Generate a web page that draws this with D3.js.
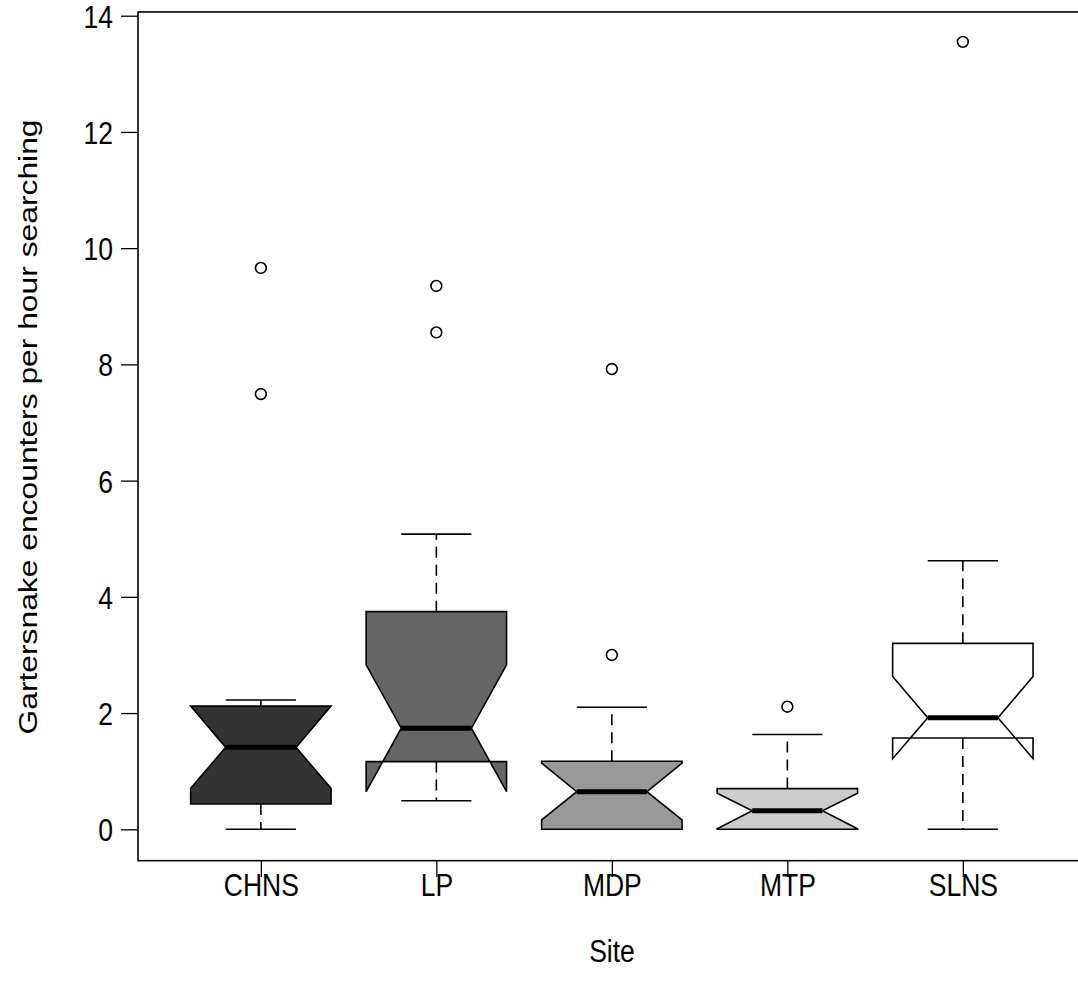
<!DOCTYPE html>
<html>
<head>
<meta charset="utf-8">
<script src="https://cdn.jsdelivr.net/npm/d3@7"></script>
<style>
  html, body { margin: 0; padding: 0; background: #fff; }
  svg { display: block; }
  text { font-family: "Liberation Sans", Arial, Helvetica, sans-serif; fill: #000; }
</style>
</head>
<body>
<div id="chart"></div>
<script>
// Gartersnake encounter rates by site: notched box summaries
const sites      = ["CHNS", "LP", "MDP", "MTP", "SLNS"];
const fills      = ["#333333", "#666666", "#999999", "#cccccc", "#ffffff"];
const whiskerLo  = [0.00, 0.49, 0.00, 0.00, 0.00];
const q1         = [0.435, 1.165, 0.00, 0.00, 1.57];
const notchLo    = [0.705, 0.647, 0.16, 0.01, 1.215];
const median     = [1.41, 1.74, 0.647, 0.32, 1.92];
const notchHi    = [2.12, 2.83, 1.14, 0.62, 2.63];
const q3         = [2.12, 3.745, 1.17, 0.70, 3.20];
const whiskerHi  = [2.225, 5.08, 2.10, 1.63, 4.62];
const outliers   = [[7.49, 9.66], [8.55, 9.35], [3.00, 7.92], [2.11], [13.55]];
const yTicks     = [0, 2, 4, 6, 8, 10, 12, 14];

const W = 1078, H = 989;
const FS = 26.5;        // label font size
const TALL = 1.2;       // vertical stretch of the lettering
const svg = d3.select("#chart").append("svg").attr("width", W).attr("height", H);

// position index 1..5, padded like a base boxplot window
const x = d3.scaleLinear().domain([0.3, 5.7]).range([138, 1085.7]);
const y = d3.scaleLinear().domain([0, 14]).range([829.3, 15.7]);

const boxHalf = 0.4, notchHalf = 0.2, capHalf = 0.2;

const data = sites.map((s, i) => ({
  site: s, pos: i + 1, fill: fills[i],
  wlo: whiskerLo[i], q1: q1[i], nlo: notchLo[i], med: median[i],
  nhi: notchHi[i], q3: q3[i], whi: whiskerHi[i], out: outliers[i]
}));

const g = svg.append("g");

// whiskers (dashed) and caps
data.forEach(d => {
  const cx = x(d.pos);
  g.append("line").attr("x1", cx).attr("x2", cx)
    .attr("y1", y(d.q3)).attr("y2", y(d.whi))
    .attr("stroke", "#000").attr("stroke-width", 1.6).attr("stroke-dasharray", "11,7");
  g.append("line").attr("x1", cx).attr("x2", cx)
    .attr("y1", y(d.q1)).attr("y2", y(d.wlo))
    .attr("stroke", "#000").attr("stroke-width", 1.6).attr("stroke-dasharray", "11,7");
  [d.whi, d.wlo].forEach(v => {
    g.append("line")
      .attr("x1", x(d.pos - capHalf)).attr("x2", x(d.pos + capHalf))
      .attr("y1", y(v)).attr("y2", y(v))
      .attr("stroke", "#000").attr("stroke-width", 1.6);
  });
});

// notched boxes
data.forEach(d => {
  const xl = x(d.pos - boxHalf), xr = x(d.pos + boxHalf);
  const nl = x(d.pos - notchHalf), nr = x(d.pos + notchHalf);
  const pts = [
    [xl, y(d.q1)], [xl, y(d.nlo)], [nl, y(d.med)], [xl, y(d.nhi)], [xl, y(d.q3)],
    [xr, y(d.q3)], [xr, y(d.nhi)], [nr, y(d.med)], [xr, y(d.nlo)], [xr, y(d.q1)]
  ];
  g.append("path")
    .attr("d", "M" + pts.map(p => p.join(",")).join("L") + "Z")
    .attr("fill", d.fill).attr("stroke", "#000").attr("stroke-width", 1.6)
    .attr("stroke-linejoin", "miter");
  g.append("line").attr("x1", nl).attr("x2", nr)
    .attr("y1", y(d.med)).attr("y2", y(d.med))
    .attr("stroke", "#000").attr("stroke-width", 5);
});

// outliers
data.forEach(d => {
  g.selectAll(null).data(d.out).enter().append("circle")
    .attr("cx", x(d.pos)).attr("cy", v => y(v)).attr("r", 5.4)
    .attr("fill", "none").attr("stroke", "#000").attr("stroke-width", 1.6);
});

// plot frame
svg.append("rect")
  .attr("x", 138).attr("y", y(14.064))
  .attr("width", x(5.7) - 138).attr("height", y(-0.54) - y(14.064))
  .attr("fill", "none").attr("stroke", "#000").attr("stroke-width", 1.6);

// y axis
const yAxis = d3.axisLeft(y).tickValues(yTicks).tickSize(17).tickPadding(8).tickSizeOuter(0);
const ya = svg.append("g").attr("transform", "translate(121,0)").call(yAxis);
ya.select(".domain").remove();
ya.selectAll(".tick line").attr("x1", 0).attr("x2", 17).attr("stroke-width", 1.3);
ya.selectAll(".tick text")
  .attr("x", -8).attr("dy", "0.36em")
  .attr("transform", `scale(1,${TALL})`)
  .attr("font-size", FS)
  .attr("font-family", "Liberation Sans, Arial, sans-serif");

// x axis
const xAxis = d3.axisBottom(x).tickValues(data.map(d => d.pos))
  .tickFormat((d, i) => sites[i]).tickSize(16).tickPadding(10).tickSizeOuter(0);
const xa = svg.append("g").attr("transform", "translate(0,861)").call(xAxis);
xa.select(".domain").remove();
xa.selectAll(".tick line").attr("stroke-width", 1.3);
xa.selectAll(".tick text")
  .attr("y", 0).attr("dy", null)
  .attr("transform", `translate(0,35) scale(1,${TALL})`)
  .attr("font-size", FS)
  .attr("font-family", "Liberation Sans, Arial, sans-serif");

// axis titles
svg.append("text")
  .attr("transform", `translate(612,962) scale(1,${TALL})`)
  .attr("text-anchor", "middle").attr("font-size", FS).text("Site");
svg.append("text")
  .attr("transform", `translate(37,427) scale(1,${TALL}) rotate(-90)`)
  .attr("text-anchor", "middle").attr("font-size", FS)
  .text("Gartersnake encounters per hour searching");
</script>
</body>
</html>
